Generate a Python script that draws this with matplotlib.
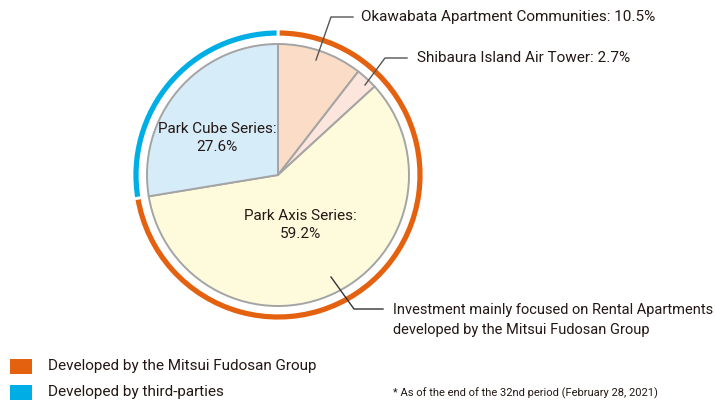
import matplotlib
matplotlib.use("Agg")
import matplotlib.pyplot as plt

W, H = 715, 401
segments = ["Okawabata Apartment Communities", "Shibaura Island Air Tower", "Park Axis Series", "Park Cube Series"]
shares = [10.5, 2.7, 59.2, 27.6]
slice_colors = ["#fbdcc6", "#fbe5dc", "#fefbdc", "#d6ecf8"]
ring_groups = ["Developed by the Mitsui Fudosan Group", "Developed by third-parties"]
ring_shares = [72.4, 27.6]
ring_colors = ["#e4610f", "#00aee6"]

FONT = ["Roboto", "DejaVu Sans"]
plt.rcParams['font.family'] = FONT

fig = plt.figure(figsize=(W/100, H/100), dpi=100)
ax = fig.add_axes([0, 0, 1, 1])

def Y(y):
    return H - y

cx, cy = 278, 175
ax.pie(shares, colors=slice_colors, startangle=90, counterclock=False,
       center=(cx, Y(cy)), radius=131, frame=True,
       wedgeprops=dict(edgecolor="#a4a4a4", linewidth=1.4))
ax.pie(ring_shares, colors=ring_colors, startangle=90, counterclock=False,
       center=(cx, Y(cy)), radius=146, frame=True,
       wedgeprops=dict(width=8, edgecolor="white", linewidth=2))
ax.set_xlim(0, W)
ax.set_ylim(0, H)
ax.set_aspect('equal')
ax.axis('off')

fs = 11
tc = "#231815"
# inside labels
ax.text(217, Y(138), f"{segments[3]}:\n{shares[3]}%", ha='center', va='center', fontsize=fs, color=tc, linespacing=1.35)
ax.text(300, Y(225), f"{segments[2]}:\n{shares[2]}%", ha='center', va='center', fontsize=fs, color=tc, linespacing=1.35)

# leaders
ax.plot([316, 331, 353], [Y(60), Y(17), Y(17)], color="#555555", lw=1)
ax.text(361, Y(17), f"{segments[0]}: {shares[0]}%", ha='left', va='center', fontsize=fs, color=tc)
ax.plot([365, 385, 407], [Y(85), Y(58), Y(58)], color="#555555", lw=1)
ax.text(417, Y(58), f"{segments[1]}: {shares[1]}%", ha='left', va='center', fontsize=fs, color=tc)
ax.plot([331, 354, 383], [Y(277), Y(309), Y(309)], color="#333333", lw=1)
ax.text(393, Y(320), "Investment mainly focused on Rental Apartments\ndeveloped by the Mitsui Fudosan Group",
        ha='left', va='center', fontsize=10.5, color=tc, linespacing=1.5)

# legend
for i, (lab, col) in enumerate(zip(ring_groups, ring_colors)):
    yy = 366 + i * 26
    ax.add_patch(plt.Rectangle((10, Y(yy + 7.5)), 22, 15, color=col, lw=0))
    ax.text(48, Y(yy), lab, ha='left', va='center', fontsize=fs, color=tc)

ax.text(393, Y(399), "* As of the end of the 32nd period (February 28, 2021)", ha='left', va='bottom', fontsize=8, color=tc)

fig.savefig("out.png", dpi=100)
